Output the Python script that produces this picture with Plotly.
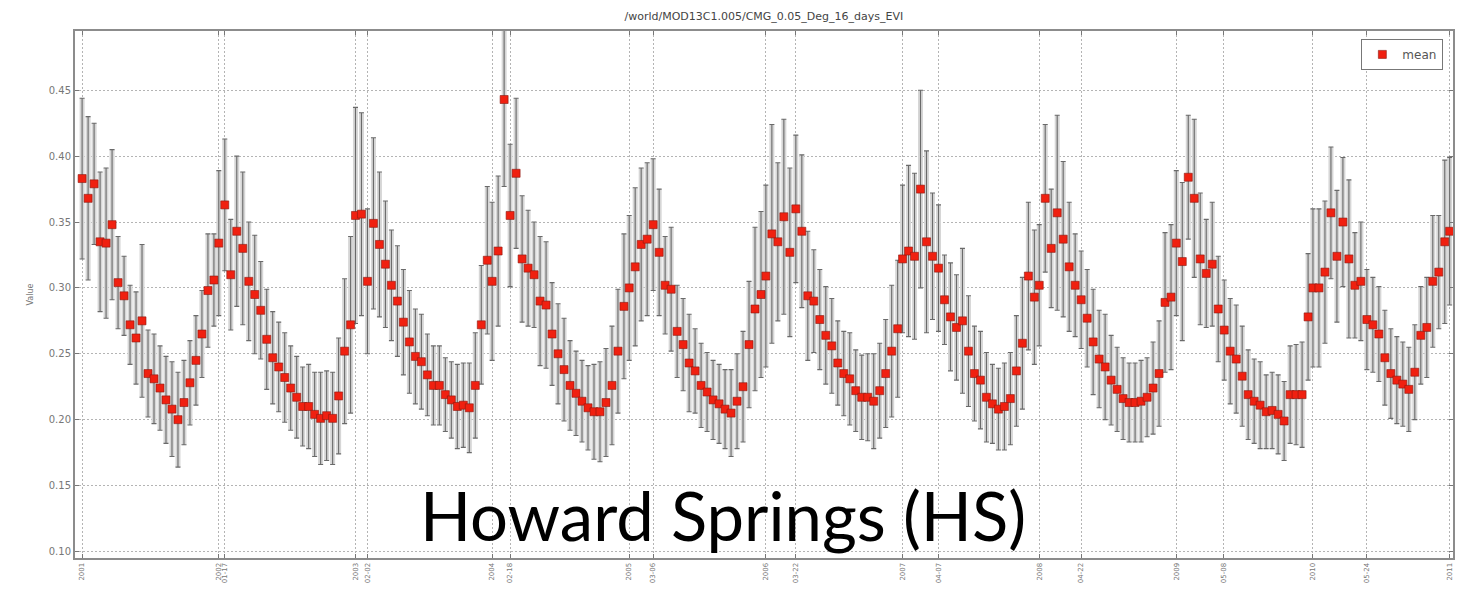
import datetime as dt
import plotly.graph_objects as go

# MOD13C1 16-day EVI composites, mean and standard deviation per composite
mean_2001 = [0.383, 0.368, 0.379, 0.335, 0.334, 0.348, 0.304, 0.294, 0.272, 0.262, 0.275, 0.235,
             0.231, 0.224, 0.215, 0.208, 0.200, 0.213, 0.228, 0.245, 0.265, 0.298, 0.306]
err_2001 = [0.061, 0.062, 0.046, 0.053, 0.057, 0.057, 0.035, 0.030, 0.030, 0.035, 0.058, 0.033,
            0.034, 0.032, 0.033, 0.036, 0.036, 0.032, 0.032, 0.034, 0.033, 0.043, 0.035]
mean_2002 = [0.334, 0.363, 0.310, 0.343, 0.330, 0.305, 0.295, 0.283, 0.261, 0.247, 0.240, 0.232,
             0.224, 0.217, 0.210, 0.210, 0.204, 0.201, 0.203, 0.201, 0.218, 0.252, 0.272]
err_2002 = [0.055, 0.050, 0.042, 0.057, 0.058, 0.045, 0.045, 0.037, 0.038, 0.035, 0.034, 0.034,
            0.032, 0.031, 0.030, 0.032, 0.032, 0.035, 0.034, 0.035, 0.044, 0.055, 0.067]
mean_2003 = [0.355, 0.356, 0.305, 0.349, 0.333, 0.318, 0.302, 0.290, 0.274, 0.259, 0.248, 0.244,
             0.234, 0.226, 0.226, 0.219, 0.215, 0.210, 0.211, 0.209, 0.226, 0.272, 0.321]
err_2003 = [0.082, 0.077, 0.055, 0.065, 0.055, 0.048, 0.042, 0.042, 0.040, 0.039, 0.036, 0.036,
            0.031, 0.030, 0.030, 0.028, 0.029, 0.032, 0.032, 0.034, 0.040, 0.045, 0.056]
mean_2004 = [0.305, 0.328, 0.443, 0.355, 0.387, 0.322, 0.315, 0.310, 0.290, 0.287, 0.265, 0.250,
             0.238, 0.226, 0.220, 0.214, 0.209, 0.206, 0.206, 0.213, 0.226, 0.252, 0.286]
err_2004 = [0.060, 0.057, 0.066, 0.054, 0.057, 0.048, 0.044, 0.040, 0.049, 0.048, 0.039, 0.038,
            0.039, 0.034, 0.032, 0.031, 0.032, 0.036, 0.038, 0.041, 0.045, 0.047, 0.055]
mean_2005 = [0.300, 0.316, 0.333, 0.337, 0.348, 0.327, 0.302, 0.299, 0.267, 0.257, 0.243, 0.237,
             0.226, 0.221, 0.215, 0.212, 0.208, 0.205, 0.214, 0.225, 0.257, 0.284, 0.295]
err_2005 = [0.055, 0.060, 0.058, 0.058, 0.050, 0.048, 0.037, 0.047, 0.035, 0.035, 0.037, 0.032,
            0.032, 0.030, 0.030, 0.030, 0.030, 0.033, 0.036, 0.042, 0.048, 0.062, 0.063]
mean_2006 = [0.309, 0.341, 0.335, 0.354, 0.327, 0.360, 0.343, 0.294, 0.290, 0.276, 0.264, 0.256,
             0.243, 0.235, 0.231, 0.222, 0.217, 0.217, 0.214, 0.222, 0.235, 0.252, 0.269]
err_2006 = [0.069, 0.083, 0.060, 0.074, 0.064, 0.056, 0.058, 0.049, 0.039, 0.038, 0.037, 0.036,
            0.032, 0.032, 0.035, 0.031, 0.032, 0.033, 0.036, 0.036, 0.041, 0.050, 0.052]
mean_2007 = [0.322, 0.328, 0.324, 0.375, 0.335, 0.324, 0.315, 0.291, 0.278, 0.270, 0.275, 0.252,
             0.235, 0.230, 0.217, 0.212, 0.208, 0.210, 0.216, 0.237, 0.258, 0.309, 0.293]
err_2007 = [0.056, 0.065, 0.063, 0.075, 0.069, 0.048, 0.048, 0.034, 0.041, 0.040, 0.055, 0.042,
            0.036, 0.037, 0.034, 0.030, 0.031, 0.033, 0.035, 0.042, 0.050, 0.056, 0.051]
mean_2008 = [0.302, 0.368, 0.330, 0.357, 0.337, 0.316, 0.302, 0.291, 0.277, 0.259, 0.246, 0.240,
             0.230, 0.223, 0.216, 0.213, 0.213, 0.214, 0.217, 0.224, 0.235, 0.289, 0.293]
err_2008 = [0.046, 0.056, 0.045, 0.074, 0.059, 0.049, 0.039, 0.037, 0.037, 0.040, 0.037, 0.040,
            0.034, 0.032, 0.031, 0.030, 0.030, 0.031, 0.030, 0.035, 0.040, 0.053, 0.055]
mean_2009 = [0.334, 0.320, 0.384, 0.368, 0.322, 0.311, 0.318, 0.284, 0.268, 0.252, 0.246, 0.233,
             0.219, 0.214, 0.211, 0.206, 0.207, 0.204, 0.199, 0.219, 0.219, 0.219, 0.278]
err_2009 = [0.055, 0.060, 0.047, 0.060, 0.050, 0.041, 0.047, 0.040, 0.038, 0.040, 0.041, 0.038,
            0.034, 0.032, 0.033, 0.028, 0.029, 0.030, 0.030, 0.037, 0.038, 0.040, 0.048]
mean_2010 = [0.300, 0.300, 0.312, 0.357, 0.324, 0.350, 0.322, 0.302, 0.305, 0.276, 0.272, 0.265,
             0.247, 0.235, 0.230, 0.227, 0.223, 0.236, 0.264, 0.270, 0.305, 0.312, 0.335]
err_2010 = [0.060, 0.060, 0.054, 0.050, 0.050, 0.049, 0.060, 0.040, 0.045, 0.038, 0.036, 0.036,
            0.036, 0.034, 0.033, 0.032, 0.032, 0.036, 0.037, 0.038, 0.050, 0.043, 0.062]
mean_2011 = [0.343]
err_2011 = [0.056]

years = list(range(2001, 2012))
means = [mean_2001, mean_2002, mean_2003, mean_2004, mean_2005, mean_2006,
         mean_2007, mean_2008, mean_2009, mean_2010, mean_2011]
errs = [err_2001, err_2002, err_2003, err_2004, err_2005, err_2006,
        err_2007, err_2008, err_2009, err_2010, err_2011]

# x tick labels: year starts plus the drifting date ticks
year_ticks = ["2001-01-01", "2002-01-01", "2003-01-01", "2004-01-01", "2005-01-01", "2006-01-01",
              "2007-01-01", "2008-01-01", "2009-01-01", "2010-01-01", "2011-01-01"]
year_labels = ["2001", "2002", "2003", "2004", "2005", "2006", "2007", "2008", "2009", "2010", "2011"]
date_ticks = ["2002-01-17", "2003-02-02", "2004-02-18", "2005-03-06", "2006-03-22",
              "2007-04-07", "2008-04-22", "2009-05-08", "2010-05-24"]
date_labels = ["01-17", "02-02", "02-18", "03-06", "03-22", "04-07", "04-22", "05-08", "05-24"]

y_ticks = [0.10, 0.15, 0.20, 0.25, 0.30, 0.35, 0.40, 0.45]

# composite dates: every 16 days from 1 January of each year
dates, values, sds = [], [], []
for yr, m, e in zip(years, means, errs):
    start = dt.date(yr, 1, 1)
    for k, (v, s) in enumerate(zip(m, e)):
        dates.append(start + dt.timedelta(days=16 * k))
        values.append(v)
        sds.append(s)

fig = go.Figure()
# light grey backing behind the error bars
fig.add_trace(go.Scatter(
    x=dates, y=values, mode="markers", showlegend=False, hoverinfo="skip",
    marker=dict(size=1, opacity=0),
    error_y=dict(type="data", array=sds, visible=True, color="#d6d6d6", thickness=5, width=0),
))
fig.add_trace(go.Scatter(
    x=dates, y=values, mode="markers", name="mean",
    marker=dict(symbol="square", size=8, color="#f02010", line=dict(color="#8a1a10", width=0.6)),
    error_y=dict(type="data", array=sds, visible=True, color="#6a6a6a", thickness=1.1, width=2.5),
))

grid = dict(showgrid=True, gridcolor="#b4b4b4", griddash="2px,2px", gridwidth=1)
frame = dict(showline=True, linecolor="#8c8c8c", linewidth=2, mirror="ticks",
             ticks="inside", ticklen=4, tickcolor="#777")

fig.update_xaxes(
    type="date", range=["2000-12-13", "2011-01-10"],
    tickmode="array", tickvals=year_ticks + date_ticks, ticktext=year_labels + date_labels,
    tickangle=-90, tickfont=dict(family="DejaVu Sans", size=7, color="#777"),
    zeroline=False, **grid, **frame,
)
fig.update_yaxes(
    range=[0.095, 0.495], tickmode="array", tickvals=y_ticks,
    ticktext=[f"{v:.2f}" for v in y_ticks],
    tickfont=dict(family="DejaVu Sans", size=10, color="#777"),
    title=dict(text="Value", font=dict(family="DejaVu Sans", size=8, color="#777"), standoff=14),
    zeroline=False, **grid, **frame,
)

fig.add_annotation(
    xref="paper", yref="paper", x=0.470, y=0.082, xanchor="center", yanchor="middle",
    text="Howard Springs (HS)", showarrow=False,
    font=dict(family="Lato", size=67, color="#000"),
)

fig.update_layout(
    width=1469, height=595,
    margin=dict(l=75, r=16, t=31, b=34),
    paper_bgcolor="white", plot_bgcolor="white",
    title=dict(text="/world/MOD13C1.005/CMG_0.05_Deg_16_days_EVI", x=0.52, xanchor="center",
               y=0.973, yanchor="middle", font=dict(family="DejaVu Sans", size=11, color="#444")),
    showlegend=True,
    legend=dict(x=0.993, y=0.985, xanchor="right", yanchor="top", bgcolor="white",
                bordercolor="#777", borderwidth=1, font=dict(family="DejaVu Sans", size=12, color="#555")),
)

fig.write_html("out.html")
